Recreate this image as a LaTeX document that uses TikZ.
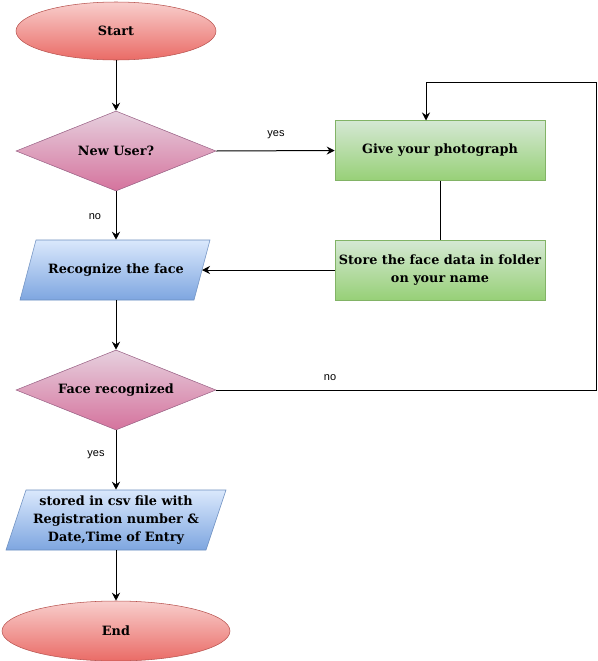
\documentclass[tikz,border=0pt]{standalone}
\usepackage{fontspec}
\setmainfont{DejaVu Serif}
\setsansfont{Liberation Sans}
\usetikzlibrary{shapes.geometric,arrows.meta}

\definecolor{redtop}{HTML}{F8CECC}\definecolor{redbot}{HTML}{EA6B66}\definecolor{redline}{HTML}{B85450}
\definecolor{pinktop}{HTML}{E6D0DE}\definecolor{pinkbot}{HTML}{D5739D}\definecolor{pinkline}{HTML}{996185}
\definecolor{greentop}{HTML}{D5E8D4}\definecolor{greenbot}{HTML}{97D077}\definecolor{greenline}{HTML}{82B366}
\definecolor{bluetop}{HTML}{DAE8FC}\definecolor{bluebot}{HTML}{7EA6E0}\definecolor{blueline}{HTML}{6C8EBF}

\tikzset{
  label text/.style={font=\bfseries\fontsize{9.6pt}{13.5pt}\selectfont, align=center, text=black},
  terminal/.style={ellipse, draw=redline, top color=redtop, bottom color=redbot, label text, inner sep=0pt},
  decision/.style={diamond, aspect=2.5, draw=pinkline, top color=pinktop, bottom color=pinkbot, label text,
                   minimum width=150pt, minimum height=60pt, inner sep=0pt},
  process/.style={rectangle, draw=greenline, top color=greentop, bottom color=greenbot, label text,
                  minimum width=157.5pt, minimum height=45pt, inner sep=0pt},
  iobox/.style={rectangle, label text, inner sep=0pt, minimum height=45pt},
  flow/.style={draw=black, line width=0.75pt, -{Stealth[length=6pt,width=6pt,inset=2pt]}},
  plain/.style={draw=black, line width=0.75pt},
  edgetext/.style={font=\sffamily\fontsize{8.25pt}{10pt}\selectfont, text=black, inner sep=0pt}
}

\begin{document}
\begin{tikzpicture}[x=0.75pt, y=-0.75pt]
  \useasboundingbox (0,0) rectangle (597,661);

  % terminals and decisions
  \node[terminal, minimum width=150pt, minimum height=43.5pt] (start) at (116,31) {Start};
  \node[decision] (newuser) at (116,151) {New User?};
  \node[decision] (facerec) at (116,390) {Face recognized};
  \node[terminal, minimum width=171pt, minimum height=45pt] (end) at (116,631) {End};

  % registration branch
  \node[process] (photo) at (440,150.5) {Give your photograph};
  \node[process] (store) at (440,270) {Store the face data in folder\\on your name};

  % input/output parallelograms
  \shade[draw=blueline, top color=bluetop, bottom color=bluebot]
    (36,240) -- (210,240) -- (194,300) -- (20,300) -- cycle;
  \node[iobox, minimum width=150pt] (recog) at (116,270) {Recognize the face};
  \coordinate (recogright) at (202,270);

  \shade[draw=blueline, top color=bluetop, bottom color=bluebot]
    (26,490) -- (226,490) -- (206,550) -- (6,550) -- cycle;
  \node[iobox, minimum width=150pt] (csv) at (116,520) {stored in csv file with\\Registration number \&\\Date,Time of Entry};

  % loop-back corners
  \coordinate (loopa) at (596,390);
  \coordinate (loopb) at (596,82);
  \coordinate (loopc) at (426,82);
  \coordinate (photoin) at (426,120.5);

  % connectors
  \draw[flow] (start.south) -- (newuser.north);
  \draw[flow] (newuser.east) -- (photo.west);
  \draw[flow] (newuser.south) -- (recog.north);
  \draw[plain] (photo.south) -- (store.north);
  \draw[flow] (store.west) -- (recogright);
  \draw[flow] (recog.south) -- (facerec.north);
  \draw[flow] (facerec.east) -- (loopa) -- (loopb) -- (loopc) -- (photoin);
  \draw[flow] (facerec.south) -- (csv.north);
  \draw[flow] (csv.south) -- (end.north);

  % edge labels
  \node[edgetext] (lyes1) at (276,135) {yes};
  \node[edgetext] (lno1) at (95,217) {no};
  \node[edgetext] (lno2) at (330,378) {no};
  \node[edgetext] (lyes2) at (96,455) {yes};
\end{tikzpicture}
\end{document}
